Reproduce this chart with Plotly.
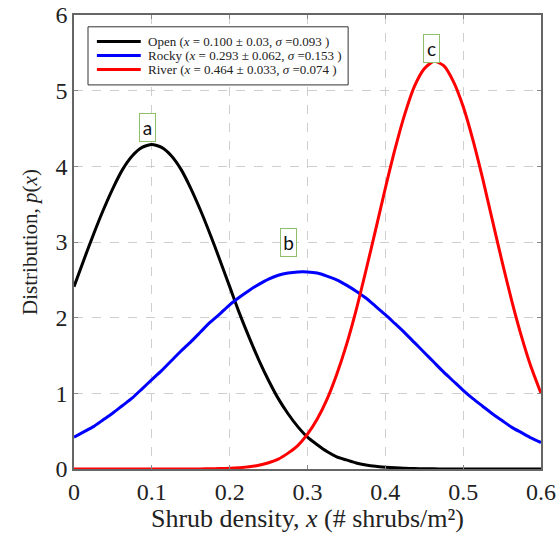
import plotly.graph_objects as go

# Shrub density grid (# shrubs/m^2), step 0.0125
x_vals = [round(i * 0.0125, 4) for i in range(49)]

open_p = [2.41, 2.76, 3.10, 3.42, 3.71, 3.96, 4.14, 4.25, 4.29, 4.25, 4.14, 3.96,
          3.71, 3.42, 3.10, 2.76, 2.41, 2.06, 1.74, 1.44, 1.17, 0.93, 0.73, 0.56,
          0.42, 0.32, 0.23, 0.16, 0.12, 0.080, 0.054, 0.036, 0.024, 0.015, 0.010, 0.006,
          0.004, 0.002, 0.001, 0.0, 0.0, 0.0, 0.0, 0.0, 0.0, 0.0, 0.0, 0.0, 0.0]
rocky_p = [0.42, 0.49, 0.56, 0.65, 0.74, 0.84, 0.94, 1.06, 1.18, 1.30, 1.43, 1.56,
           1.68, 1.81, 1.94, 2.05, 2.17, 2.27, 2.36, 2.44, 2.51, 2.56, 2.59, 2.605,
           2.605, 2.59, 2.55, 2.50, 2.43, 2.35, 2.26, 2.15, 2.04, 1.92, 1.80, 1.67,
           1.54, 1.41, 1.28, 1.16, 1.04, 0.93, 0.83, 0.73, 0.64, 0.55, 0.48, 0.41, 0.35]
river_p = [0.0, 0.0, 0.0, 0.0, 0.0, 0.0, 0.0, 0.0, 0.0, 0.0, 0.0, 0.0,
           0.0, 0.001, 0.003, 0.005, 0.009, 0.017, 0.029, 0.050, 0.082, 0.13, 0.21, 0.31,
           0.46, 0.66, 0.92, 1.25, 1.64, 2.10, 2.62, 3.16, 3.71, 4.23, 4.69, 5.06,
           5.29, 5.39, 5.33, 5.12, 4.79, 4.35, 3.84, 3.29, 2.74, 2.22, 1.75, 1.34, 1.00]

series_names = [
    "Open (<i>x</i> = 0.100 ± 0.03, <i>σ</i> =0.093 )",
    "Rocky (<i>x</i> = 0.293 ± 0.062, <i>σ</i> =0.153 )",
    "River (<i>x</i> = 0.464 ± 0.033, <i>σ</i> =0.074 )",
]
series_colors = ["#000000", "#0000ff", "#ff0000"]

label_text = ["a", "b", "c"]
label_x = [0.094, 0.276, 0.459]
label_y = [4.51, 3.0, 5.56]

x_ticks = [0, 0.1, 0.2, 0.3, 0.4, 0.5, 0.6]
x_tick_text = ["0", "0.1", "0.2", "0.3", "0.4", "0.5", "0.6"]
y_ticks = [0, 1, 2, 3, 4, 5, 6]

SERIF = "Liberation Serif, Times New Roman, serif"

fig = go.Figure()
for ys, name, col in zip([open_p, rocky_p, river_p], series_names, series_colors):
    fig.add_trace(go.Scatter(x=x_vals, y=ys, mode="lines", name=name, showlegend=False,
                             line=dict(color=col, width=3, shape="spline", smoothing=0.6)))

for t, ax_, ay_ in zip(label_text, label_x, label_y):
    fig.add_annotation(x=ax_, y=ay_, text=t, showarrow=False,
                       font=dict(family="Lato", size=19, color="#111"),
                       bordercolor="#8fbf6a", borderwidth=1, borderpad=0,
                       width=15, height=27, bgcolor="white")

# Legend drawn inside the plot area (paper coordinates)
fig.add_shape(type="rect", xref="paper", yref="paper", x0=0.030, x1=0.587, y0=0.846, y1=0.974,
              line=dict(color="#333", width=1), fillcolor="white", layer="above")
legend_rows_y = [0.9416, 0.9108, 0.880]
for name, col, ry in zip(series_names, series_colors, legend_rows_y):
    fig.add_shape(type="line", xref="paper", yref="paper", x0=0.049, x1=0.143, y0=ry, y1=ry,
                  line=dict(color=col, width=3), layer="above")
    fig.add_annotation(xref="paper", yref="paper", x=0.154, y=ry, text=name, showarrow=False,
                       xanchor="left", yanchor="middle",
                       font=dict(family=SERIF, size=13, color="#222"))

axis_common = dict(
    showline=True, linecolor="#666", linewidth=1.5, mirror="allticks",
    ticks="inside", ticklen=4, tickcolor="#888", tickwidth=1,
    showgrid=True, gridcolor="#cfcfcf", griddash="dash", gridwidth=1,
    zeroline=False, automargin=False,
    tickfont=dict(family=SERIF, size=24, color="#222"),
)

fig.update_layout(
    width=557, height=533,
    margin=dict(l=74, r=16, t=15, b=64, autoexpand=False),
    plot_bgcolor="white", paper_bgcolor="white",
    font=dict(family=SERIF, color="#222"),
    xaxis=dict(range=[0, 0.6], tickvals=x_ticks, ticktext=x_tick_text,
               title=dict(text="Shrub density, <i>x</i> (# shrubs/m²)",
                          font=dict(family=SERIF, size=26)),
               **axis_common),
    yaxis=dict(range=[0, 6], tickvals=y_ticks,
               title=dict(text="Distribution, <i>p</i>(<i>x</i>)",
                          font=dict(family=SERIF, size=21), standoff=12),
               **axis_common),
    showlegend=False,
)

fig.write_html("out.html")
